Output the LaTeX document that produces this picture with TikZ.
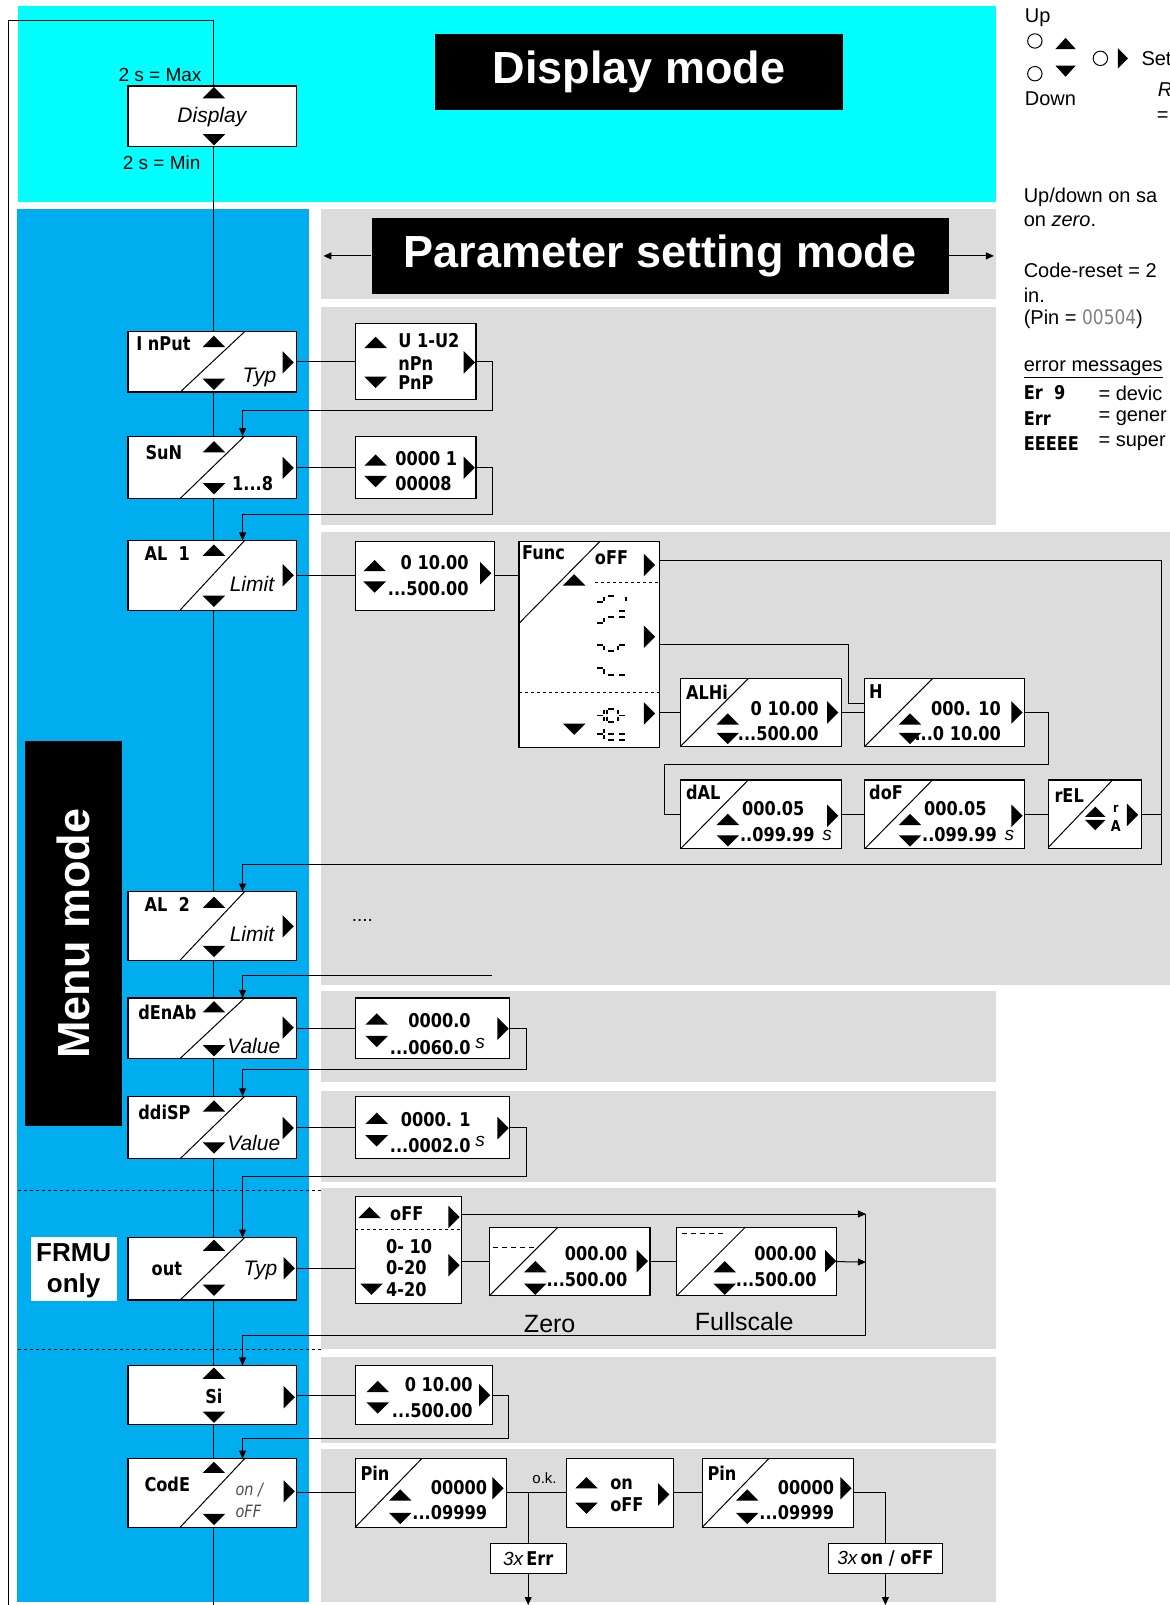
\documentclass[tikz,border=0pt]{standalone}
\usepackage{fontspec}
\setmainfont{Liberation Sans}
\newfontfamily\segf[FakeStretch=0.85]{DejaVu Sans}
\usetikzlibrary{arrows.meta,calc}
\definecolor{cyanbg}{RGB}{0,255,255}
\definecolor{bluebg}{RGB}{0,174,239}
\definecolor{graybg}{RGB}{220,220,220}
\newcommand\bx[5]{\node[box,minimum width={(#4-#2)*1.0236pt},minimum height={(#5-#3)*1.0236pt}] (#1) at ({(#2+#4)/2},{(#3+#5)/2}) {};}
\newcommand\menub[3]{\bx{#1}{125}{#2}{290}{#3}\draw[ln] (176,#3) -- (239,#2);}
\newcommand\tu[2]{\fill (#1-11,#2+5) -- (#1+11,#2+5) -- (#1,#2-6) -- cycle;}
\newcommand\tdn[2]{\fill (#1-11,#2-5) -- (#1+11,#2-5) -- (#1,#2+6) -- cycle;}
\newcommand\trt[2]{\fill (#1-5,#2-11) -- (#1-5,#2+11) -- (#1+6,#2) -- cycle;}
\newcommand\sA[2]{\draw[sl] (#1+1,#2) -- (#1+7,#2);}
\newcommand\sB[2]{\draw[sl] (#1+8,#2+1) -- (#1+8,#2+5);}
\newcommand\sC[2]{\draw[sl] (#1+8,#2+7) -- (#1+8,#2+11);}
\newcommand\sD[2]{\draw[sl] (#1+1,#2+12) -- (#1+7,#2+12);}
\newcommand\sE[2]{\draw[sl] (#1,#2+7) -- (#1,#2+11);}
\newcommand\sF[2]{\draw[sl] (#1,#2+1) -- (#1,#2+5);}
\newcommand\sG[2]{\draw[sl] (#1+1,#2+6) -- (#1+7,#2+6);}
\begin{document}
\begin{tikzpicture}[x=1.0236pt,y=-1.0236pt,
  box/.style={draw=black,fill=white,line width=1.1pt,inner sep=0pt,outer sep=0pt},
  ln/.style={line width=1pt},
  arr/.style={line width=1pt,-{Triangle[length=8pt,width=7pt]}},
  lb/.style={font=\fontsize{19}{21}\selectfont,inner sep=0pt},
  lg/.style={font=\fontsize{20}{22}\selectfont,inner sep=0pt,anchor=west},
  it/.style={font=\fontsize{21}{23}\selectfont\itshape,inner sep=0pt},
  its/.style={font=\fontsize{19}{21}\selectfont\itshape,inner sep=0pt},
  sg/.style={font=\segf\bfseries\fontsize{19}{21}\selectfont,inner sep=0pt},
  sgi/.style={font=\segf\itshape\fontsize{17}{19}\selectfont,text=black!70,inner sep=0pt},
  hdr/.style={font=\fontsize{45}{50}\selectfont\bfseries,text=white,inner sep=0pt},
  sl/.style={line width=1.9pt},
  dsh/.style={line width=0.9pt,dash pattern=on 3pt off 3pt},
]
\useasboundingbox (0,0) rectangle (1143,1568);
% backgrounds
\fill[cyanbg] (18,6) rectangle (973,197);
\fill[bluebg] (17,204) rectangle (302,1565);
\fill[graybg] (314,204) rectangle (973,292);
\fill[graybg] (314,300) rectangle (973,513);
\fill[graybg] (314,520) rectangle (1143,962);
\fill[graybg] (314,968) rectangle (973,1057);
\fill[graybg] (314,1066) rectangle (973,1155);
\fill[graybg] (314,1161) rectangle (973,1318);
\fill[graybg] (314,1326) rectangle (973,1410);
\fill[graybg] (314,1416) rectangle (973,1565);
\draw[dsh] (18,1163) -- (316,1163);
\draw[dsh] (18,1318) -- (316,1318);
% headers
\node[hdr,fill=black,minimum width={399*1.0236pt},minimum height={74*1.0236pt}] (dmode) at (624.5,70) {Display mode};
\node[hdr,fill=black,minimum width={564*1.0236pt},minimum height={74*1.0236pt}] (pmode) at (645,250) {Parameter setting mode};
\coordinate (pl) at (316,250);
\coordinate (pr) at (971,250);
\draw[arr] (pmode.west) -- (pl);
\draw[arr] (pmode.east) -- (pr);
\node[fill=black,inner sep=0pt,minimum width={95*1.0236pt},minimum height={376*1.0236pt}] (mmode) at (71.5,912) {};
\node[hdr,rotate=90] (mmtext) at (mmode.center) {Menu mode};
\node[fill=white,inner sep=0pt,minimum width={84*1.0236pt},minimum height={63*1.0236pt}] (frmu) at (72,1239.5) {};
\node[font=\fontsize{26}{28}\selectfont\bfseries,inner sep=0pt,anchor=base] (frmua) at (72,1232) {FRMU};
\node[font=\fontsize{26}{28}\selectfont\bfseries,inner sep=0pt,anchor=base] (frmub) at (72,1263) {only};
% display box
\bx{disp}{125}{84}{290}{143}
\tu{209}{91}
\tdn{209}{136}
\node[it] (dtxt) at (207,114) {Display};
\node[lb,anchor=east] (dmax) at (197,73) {2 s = Max};
\node[lb,anchor=east] (dmin) at (196,159) {2 s = Min};
% menu boxes
\menub{inp}{324}{383}
\menub{sun}{426}{487}
\menub{alone}{528}{596}
\menub{altwo}{871}{938}
\menub{den}{975}{1034}
\menub{ddi}{1071}{1132}
\menub{outb}{1209}{1270}
\bx{si}{125}{1334}{290}{1392}
\menub{code}{1425}{1492}
% value boxes
\bx{inv}{347}{316}{465}{390}
\bx{sunv}{347}{426}{465}{487}
\bx{alv}{347}{529}{483}{596}
\bx{func}{507}{529}{644}{730}
\bx{alhi}{665}{663}{822}{729}
\bx{hb}{845}{663}{1001}{729}
\bx{dal}{665}{762}{822}{829}
\bx{dof}{845}{762}{1001}{829}
\bx{rel}{1024}{762}{1115}{829}
\bx{denv}{347}{975}{498}{1034}
\bx{ddiv}{347}{1071}{498}{1132}
\bx{outv}{347}{1169}{451}{1273}
\bx{zero}{478}{1199}{635}{1266}
\bx{full}{661}{1199}{817}{1266}
\bx{siv}{347}{1334}{481}{1392}
\bx{pin}{347}{1425}{495}{1492}
\bx{onoff}{553}{1425}{658}{1492}
\bx{pintwo}{686}{1425}{834}{1492}
\bx{err}{479}{1508}{553}{1537}
\bx{onx}{809}{1508}{921}{1537}
% diagonals in value boxes
\draw[ln] (507,609) -- (586,529);
\draw[ln] (665,729) -- (731,663);
\draw[ln] (845,729) -- (911,663);
\draw[ln] (665,829) -- (731,762);
\draw[ln] (845,829) -- (911,762);
\draw[ln] (1024,828) -- (1087,762);
\draw[ln] (478,1266) -- (545,1199);
\draw[ln] (661,1266) -- (728,1199);
\draw[ln] (347,1492) -- (412,1425);
\draw[ln] (686,1492) -- (751,1425);
% main vertical and loop
\coordinate (vx) at (209,0);
\coordinate (cx) at (237,0);
\coordinate (ltop) at (209,20);
\coordinate (lcor) at (8,20);
\coordinate (lbot) at (8,1568);
\coordinate (vbot) at (209,1568);
\draw[ln] (vx|-disp.north) -- (ltop) -- (lcor) -- (lbot);
\draw[ln] (vx|-disp.south) -- (vx|-inp.north);
\draw[ln] (vx|-inp.south) -- (vx|-sun.north);
\draw[ln] (vx|-sun.south) -- (vx|-alone.north);
\draw[ln] (vx|-alone.south) -- (vx|-altwo.north);
\draw[ln] (vx|-altwo.south) -- (vx|-den.north);
\draw[ln] (vx|-den.south) -- (vx|-ddi.north);
\draw[ln] (vx|-ddi.south) -- (vx|-outb.north);
\draw[ln] (vx|-outb.south) -- (vx|-si.north);
\draw[ln] (vx|-si.south) -- (vx|-code.north);
\draw[ln] (vx|-code.south) -- (vbot);
% horizontal connectors
\draw[ln] (inp.east) -- (inp.east -| inv.west);
\draw[ln] (sun.east) -- (sun.east -| sunv.west);
\draw[ln] (alone.east) -- (alone.east -| alv.west);
\draw[ln] (alv.east) -- (alv.east -| func.west);
\draw[ln] (den.east) -- (den.east -| denv.west);
\draw[ln] (ddi.east) -- (ddi.east -| ddiv.west);
\draw[ln] (outb.east) -- (outb.east -| outv.west);
\draw[ln] (si.east) -- (si.east -| siv.west);
\draw[ln] (code.east) -- (code.east -| pin.west);
% return loops
\coordinate (r1) at (481,401);
\draw[arr] (inv.east) -| (r1) -| (cx|-sun.north);
\coordinate (r2) at (481,503);
\draw[arr] (sunv.east) -| (r2) -| (cx|-alone.north);
\coordinate (fa) at ($(func.north east)+(0,19)$);
\coordinate (fb) at ($(func.north east)+(0,101)$);
\coordinate (r3) at (1135,845);
\draw[arr] (fa) -| (r3) -| (cx|-altwo.north);
\draw[ln] (rel.east) -- (rel.east -| r3);
\coordinate (r4) at (829,687);
\draw[ln] (fb) -| (r4) -- (r4 -| hb.west);
\draw[ln] (alhi.west -| func.east) -- (alhi.west);
\draw[ln] (alhi.east) -- (hb.west);
\coordinate (r5) at (1024,747);
\coordinate (r6) at (649,747);
\draw[ln] (hb.east) -| (r5) -- (r6) |- (dal.west);
\draw[ln] (dal.east) -- (dof.west);
\draw[ln] (dof.east) -- (rel.west);
\coordinate (r7) at (481,953);
\draw[arr] (r7) -| (cx|-den.north);
\coordinate (r8) at (514,1045);
\draw[arr] (denv.east) -| (r8) -| (cx|-ddi.north);
\coordinate (r9) at (514,1149);
\draw[arr] (ddiv.east) -| (r9) -| (cx|-outb.north);
\coordinate (o1) at (846,1186);
\coordinate (o2) at (846,1233);
\coordinate (o3) at (846,1305);
\draw[arr] (o1 -| outv.east) -- (o1);
\draw[ln] (zero.west -| outv.east) -- (zero.west);
\draw[ln] (zero.east) -- (full.west);
\draw[arr] (full.east) -- (o2);
\draw[arr] (o1) -- (o3) -| (cx|-si.north);
\coordinate (r10) at (497,1405);
\draw[arr] (siv.east) -| (r10) -| (cx|-code.north);
\draw[ln] (pin.east) -- (onoff.west);
\coordinate (k1) at (err.north |- pin.east);
\draw[ln] (k1) -- (err.north);
\coordinate (eb) at (516,1568);
\draw[arr] (err.south) -- (eb);
\draw[ln] (onoff.east) -- (pintwo.west);
\draw[ln] (pintwo.east) -| (onx.north);
\draw[arr] (onx.south) -- (onx.south |- eb);
% ---- menu box contents
\node[sg,anchor=west] (tinp) at (133,336) {I nPut};
\tu{209}{334} \tdn{209}{375} \trt{281}{354}
\node[it,anchor=base east] (tinpt) at (270,374) {Typ};
\node[sg,anchor=west] (tsun) at (142,442) {SuN};
\tu{209}{437} \tdn{209}{477} \trt{281}{457}
\node[sg,anchor=east] (tsunr) at (267,472) {1...8};
\node[sg,anchor=west] (tal1) at (141,541) {AL\ \ 1};
\tu{209}{538} \tdn{209}{587} \trt{281}{562}
\node[it,anchor=base east] (tal1l) at (268,578) {Limit};
\node[sg,anchor=west] (tal2) at (141,884) {AL\ \ 2};
\tu{209}{882} \tdn{209}{929} \trt{281}{905}
\node[it,anchor=base east] (tal2l) at (268,920) {Limit};
\node[sg,anchor=west] (tden) at (135,989) {dEnAb};
\tu{209}{984} \tdn{209}{1026} \trt{281}{1004}
\node[it,anchor=base east] (tdenv) at (274,1029) {Value};
\node[sg,anchor=west] (tddi) at (135,1087) {ddiSP};
\tu{209}{1081} \tdn{209}{1121} \trt{281}{1102}
\node[it,anchor=base east] (tddiv) at (274,1124) {Value};
\node[sg,anchor=west] (tout) at (148,1240) {out};
\tu{209}{1217} \tdn{209}{1260} \trt{282}{1239}
\node[it,anchor=base east] (toutt) at (271,1246) {Typ};
\tu{209}{1342} \tdn{209}{1384} \trt{282}{1365}
\node[sg] (tsi) at (209,1364) {Si};
\node[sg,anchor=west] (tcode) at (141,1450) {CodE};
\tu{209}{1434} \tdn{209}{1484} \trt{282}{1457}
\node[sgi,anchor=west] (tcon) at (230,1456) {on /};
\node[sgi,anchor=west] (tcoff) at (230,1477) {oFF};
% ---- value contents
\tu{367}{335} \tdn{367}{373} \trt{458}{354}
\node[sg,anchor=west] (v1a) at (389,333) {U 1-U2};
\node[sg,anchor=west] (v1b) at (389,355) {nPn};
\node[sg,anchor=west] (v1c) at (389,374) {PnP};
\tu{367}{450} \tdn{367}{470} \trt{458}{457}
\node[sg,anchor=west] (v2a) at (386,448) {0000 1};
\node[sg,anchor=west] (v2b) at (386,472) {00008};
\tu{366}{553} \tdn{366}{573} \trt{474}{560}
\node[sg,anchor=east] (v3a) at (458,550) {0 10.00};
\node[sg,anchor=east] (v3b) at (458,575) {...500.00};
% func
\node[sg,anchor=west] (fn1) at (510,540) {Func};
\node[sg,anchor=west] (fn2) at (581,545) {oFF};
\trt{634}{552} \tu{561}{567} \trt{634}{622} \trt{634}{697} \tdn{561}{712}
\draw[dsh] (581,569) -- (644,569);
\draw[dsh] (507,676) -- (644,676);
\sB{582}{582} \sG{582}{582} \sA{593}{582} \sB{604}{582}
\sC{582}{597} \sD{582}{597} \sG{593}{597} \sA{604}{597} \sG{604}{597}
\sA{582}{630} \sB{582}{630} \sG{593}{630} \sA{604}{630} \sF{604}{630}
\sA{582}{653} \sB{582}{653} \sG{593}{653} \sG{604}{653}
\sB{582}{693} \sC{582}{693} \sG{582}{693} \sA{593}{693} \sF{593}{693} \sE{593}{693} \sD{593}{693} \sF{604}{693} \sE{604}{693} \sG{604}{693}
\sB{582}{711} \sC{582}{711} \sG{582}{711} \sG{593}{711} \sD{593}{711} \sG{604}{711} \sD{604}{711}
% ALHi, H
\node[sg,anchor=west] (ah1) at (670,676) {ALHi};
\node[sg,anchor=east] (ah2) at (800,692) {0 10.00};
\node[sg,anchor=east] (ah3) at (800,717) {...500.00};
\tu{711}{703} \tdn{711}{721} \trt{813}{696}
\node[sg,anchor=west] (hh1) at (849,676) {H};
\node[sg,anchor=east] (hh2) at (978,692) {000. 10};
\node[sg,anchor=east] (hh3) at (978,717) {...0 10.00};
\tu{889}{703} \tdn{889}{721} \trt{993}{696}
% dAL, doF, rEL
\node[sg,anchor=west] (da1) at (670,774) {dAL};
\node[sg,anchor=east] (da2) at (786,790) {000.05};
\node[sg,anchor=east] (da3) at (796,815) {..099.99};
\node[its] (da4) at (808,816) {s};
\tu{711}{801} \tdn{711}{821} \trt{813}{797}
\node[sg,anchor=west] (do1) at (849,774) {doF};
\node[sg,anchor=east] (do2) at (964,790) {000.05};
\node[sg,anchor=east] (do3) at (974,815) {..099.99};
\node[its] (do4) at (986,816) {s};
\tu{889}{801} \tdn{889}{821} \trt{993}{797}
\node[sg,anchor=west] (re1) at (1030,777) {rEL};
\fill (1060,798) -- (1080,798) -- (1070,788) -- cycle;
\fill (1060,801) -- (1080,801) -- (1070,811) -- cycle;
\node[sg,font=\segf\bfseries\fontsize{13}{14}\selectfont] (re2) at (1090,790) {r};
\node[sg,font=\segf\bfseries\fontsize{15}{16}\selectfont] (re3) at (1090,807) {A};
\trt{1106}{796}
% AL2 dots
\node[lb] (dots) at (354,899) {....};
% dEnAb, ddiSP values
\tu{368}{996} \tdn{368}{1017} \trt{491}{1005}
\node[sg,anchor=east] (dv1) at (460,997) {0000.0};
\node[sg,anchor=east] (dv2) at (460,1023) {...0060.0};
\node[its] (dv3) at (469,1019) {s};
\tu{368}{1093} \tdn{368}{1114} \trt{491}{1102}
\node[sg,anchor=east] (dd1) at (460,1094) {0000. 1};
\node[sg,anchor=east] (dd2) at (460,1119) {...0002.0};
\node[its] (dd3) at (469,1115) {s};
% out values
\tu{361}{1185} \trt{443}{1189} \tdn{363}{1259} \trt{443}{1236}
\node[sg,anchor=west] (ov1) at (381,1186) {oFF};
\draw[dsh] (347,1201) -- (451,1201);
\node[sg,anchor=west] (ov2) at (377,1218) {0- 10};
\node[sg,anchor=west] (ov3) at (377,1238) {0-20};
\node[sg,anchor=west] (ov4) at (377,1260) {4-20};
\draw[line width=0.9pt,dash pattern=on 5pt off 4pt] (482,1219) -- (524,1219);
\node[sg,anchor=east] (z1) at (613,1225) {000.00};
\node[sg,anchor=east] (z2) at (613,1250) {...500.00};
\tu{523}{1238} \tdn{523}{1259} \trt{627}{1232}
\draw[line width=0.9pt,dash pattern=on 5pt off 4pt] (666,1205) -- (708,1205);
\node[sg,anchor=east] (f1) at (798,1225) {000.00};
\node[sg,anchor=east] (f2) at (798,1250) {...500.00};
\tu{708}{1238} \tdn{708}{1259} \trt{811}{1232}
\node[font=\fontsize{25}{27}\selectfont,inner sep=0pt] (zl) at (537,1293) {Zero};
\node[font=\fontsize{25}{27}\selectfont,inner sep=0pt] (fl) at (727,1291) {Fullscale};
% Si values
\tu{369}{1355} \tdn{369}{1375} \trt{473}{1363}
\node[sg,anchor=east] (s1) at (462,1353) {0 10.00};
\node[sg,anchor=east] (s2) at (462,1378) {...500.00};
% Code chain
\node[sg,anchor=west] (p1) at (352,1439) {Pin};
\node[sg,anchor=east] (p2) at (476,1453) {00000};
\node[sg,anchor=east] (p3) at (476,1478) {...09999};
\tu{391}{1461} \tdn{391}{1483} \trt{486}{1454}
\node[font=\fontsize{15}{16}\selectfont,inner sep=0pt] (ok) at (532,1444) {o.k.};
\tu{573}{1449} \tdn{573}{1473} \trt{648}{1460}
\node[sg,anchor=west] (oo1) at (596,1450) {on};
\node[sg,anchor=west] (oo2) at (596,1470) {oFF};
\node[sg,anchor=west] (q1) at (691,1439) {Pin};
\node[sg,anchor=east] (q2) at (815,1453) {00000};
\node[sg,anchor=east] (q3) at (815,1478) {...09999};
\tu{730}{1461} \tdn{730}{1483} \trt{826}{1454}
\node[font=\fontsize{19}{20}\selectfont,inner sep=0pt] (errt) at (err.center) {\itshape 3x\,\upshape\segf\bfseries Err};
\node[font=\fontsize{19}{20}\selectfont,inner sep=0pt] (onxt) at (onx.center) {\itshape 3x\,\upshape\segf\bfseries on / oFF};
% legend
\node[lg] (lup) at (1001,17) {Up};
\draw[line width=1pt] (1011,40) circle[radius=7.2pt];
\draw[line width=1pt] (1011,72) circle[radius=7.2pt];
\draw[line width=1pt] (1075,57) circle[radius=7.2pt];
\fill (1031,48) -- (1051,48) -- (1041,37) -- cycle;
\fill (1031,64) -- (1051,64) -- (1041,75) -- cycle;
\fill (1092,47) -- (1092,67) -- (1102,57) -- cycle;
\node[lg] (lset) at (1115,57) {Set};
\node[lg,font=\fontsize{20}{22}\selectfont\itshape] (lr) at (1131,88) {R};
\node[lg] (leq) at (1130,114) {=};
\node[lg] (ldown) at (1001,96) {Down};
\node[lg] (l1) at (1000,193) {Up/down on sa};
\node[lg] (l2) at (1000,216) {on \textit{zero}.};
\node[lg] (l3) at (1000,264) {Code-reset = 2};
\node[lg] (l4) at (1000,288) {in.};
\node[lg] (l5) at (1000,312) {(Pin = {\segf\color{black!50}00504})};
\node[lg] (l6) at (1000,361) {\underline{error messages}};
\node[sg,anchor=west] (e1) at (1000,384) {Er\ \ 9};
\node[lg] (e1b) at (1073,384) {= devic};
\node[sg,anchor=west] (e2) at (1000,409) {Err};
\node[lg] (e2b) at (1073,409) {= gener};
\node[sg,anchor=west] (e3) at (1000,433) {EEEEE};
\node[lg] (e3b) at (1073,433) {= super};
\end{tikzpicture}
\end{document}
